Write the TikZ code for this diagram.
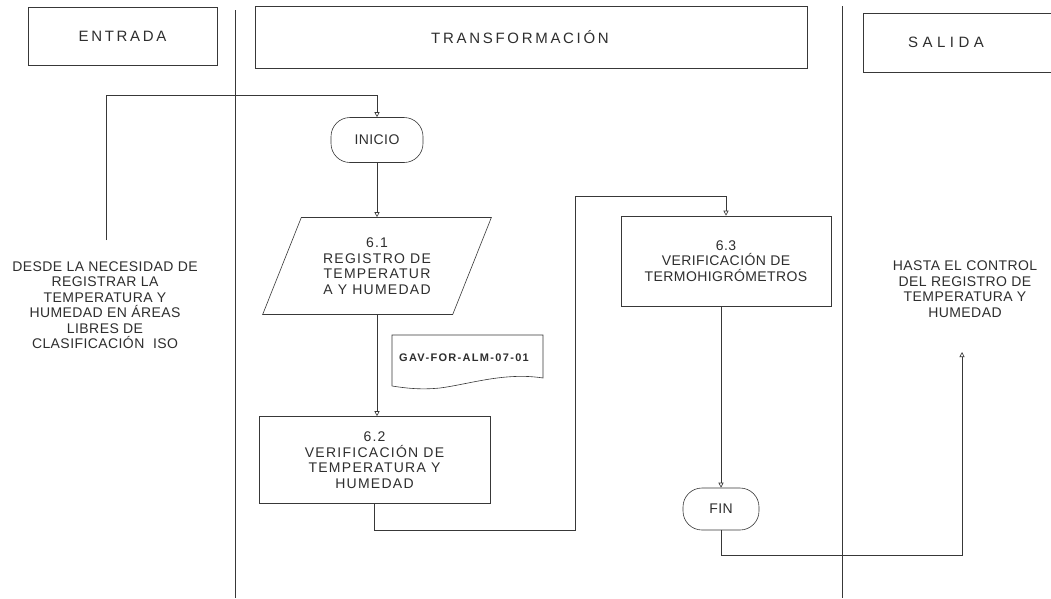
\documentclass[tikz,border=0pt]{standalone}
\usepackage{fontspec}
\setmainfont{Liberation Sans}
\usetikzlibrary{shapes.geometric,arrows.meta,calc}
\definecolor{ink}{gray}{0.22}
\definecolor{txtc}{gray}{0.18}
\begin{document}
\begin{tikzpicture}[x=1pt,y=-1pt,
  line/.style={draw=ink,line width=0.6pt},
  arr/.style={line,-{Triangle[open,length=5pt,width=5pt]}},
  hdr/.style={line,text=txtc,inner sep=0pt,font=\fontsize{15}{17}\selectfont\addfontfeatures{LetterSpace=18}},
  body/.style={font=\fontsize{14}{15.5}\selectfont\addfontfeatures{LetterSpace=3}},
  widebody/.style={font=\fontsize{14}{15.5}\selectfont\addfontfeatures{LetterSpace=9}},
  txt/.style={body,text=txtc,align=center,inner sep=0pt},
  procbox/.style={line,widebody,text=txtc,align=center,inner sep=0pt},
  term/.style={line,body,text=txtc,rounded corners=19pt,inner sep=0pt},
  iobox/.style={line,widebody,text=txtc,align=center,inner sep=0pt,shape=trapezium,
    trapezium left angle=64,trapezium right angle=116,trapezium stretches=true}
]
\clip (0,0) rectangle (1051,598);
\fill[white] (0,0) rectangle (1051,598);

% headers
\node[hdr,minimum width=189pt,minimum height=58pt] (entrada) at (122.5,36) {ENTRADA};
\node[hdr,minimum width=552pt,minimum height=62pt] (transf) at (531,37) {\hspace*{-22pt}TRANSFORMACIÓN};
\node[hdr,minimum width=192pt,minimum height=59pt,font=\fontsize{15}{17}\selectfont\addfontfeatures{LetterSpace=30}] (salida) at (959,42.5) {\hspace*{-26pt}SALIDA};

% lane dividers
\draw[line] (235,10) -- (235,598);
\draw[line] (842,6) -- (842,598);

% side texts
\node[txt] (desde) at (105,305) {DESDE LA NECESIDAD DE\\REGISTRAR LA\\TEMPERATURA Y\\HUMEDAD EN ÁREAS\\LIBRES DE\\CLASIFICACIÓN\ \ ISO};
\node[txt] (hasta) at (965,289) {HASTA EL CONTROL\\DEL REGISTRO DE\\TEMPERATURA Y\\HUMEDAD};

% flow nodes
\node[term,minimum width=92pt,minimum height=45pt] (inicio) at (377,140) {INICIO};
\node[iobox,minimum width=229pt,minimum height=97pt] (p61) at (377,266) {6.1\\REGISTRO DE\\TEMPERATUR\\A Y HUMEDAD};
\node[procbox,minimum width=231pt,minimum height=87pt] (p62) at (374.5,460) {6.2\\VERIFICACIÓN DE\\TEMPERATURA Y\\HUMEDAD};
\node[procbox,body,minimum width=210pt,minimum height=90pt] (p63) at (726,261) {6.3\\VERIFICACIÓN DE\\TERMOHIGRÓMETROS};
\node[term,minimum width=76pt,minimum height=42pt] (fin) at (721,509) {FIN};

% document
\node[text=txtc,inner sep=0pt,font=\fontsize{11}{13}\selectfont\bfseries\addfontfeatures{LetterSpace=12}] (doc) at (464,358) {GAV-FOR-ALM-07-01};
\draw[line] (392,386) -- (392,335) -- (543,335) -- (543,378)
  .. controls (505,372) and (470,384) .. (440,388)
  .. controls (420,390) and (405,388) .. (392,386);

% connectors
\coordinate (in0) at (106,240);
\coordinate (k0) at (106,95);
\draw[arr] (in0) -- (k0) -| (inicio.north);
\draw[arr] (inicio.south) -- (p61.north -| inicio.south);
\draw[arr] (p61.south -| inicio.south) -- (p62.north -| inicio.south);

\coordinate (k1) at (575,530);
\coordinate (k2) at (575,196);
\draw[arr] (p62.south) |- (k1) -- (k2) -| (p63.north);
\draw[arr] (p63.south -| fin.north) -- (fin.north);

\coordinate (k3) at (962,555);
\coordinate (out) at (962,352);
\draw[arr] (fin.south) |- (k3) -- (out);
\end{tikzpicture}
\end{document}
